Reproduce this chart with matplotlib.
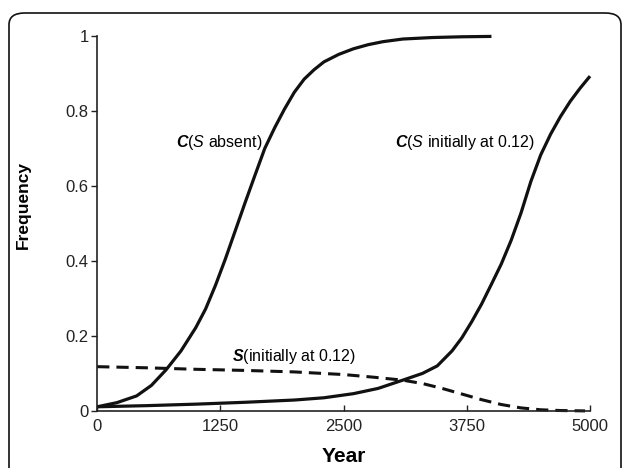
import matplotlib
matplotlib.use("Agg")
import matplotlib.pyplot as plt
from matplotlib.patches import FancyBboxPatch

plt.rcParams['font.family'] = ['Liberation Sans', 'DejaVu Sans']
plt.rcParams['mathtext.fontset'] = 'custom'
plt.rcParams['mathtext.rm'] = 'Liberation Sans'
plt.rcParams['mathtext.it'] = 'Liberation Sans:italic'
plt.rcParams['mathtext.bf'] = 'Liberation Sans:bold'
plt.rcParams['mathtext.bfit'] = 'Liberation Sans:italic:bold'

# C with S absent
yr_absent = [0, 200, 400, 550, 700, 850, 1000, 1100, 1200, 1300, 1400, 1500,
             1600, 1700, 1800, 1900, 2000, 2100, 2200, 2300, 2450, 2600,
             2750, 2900, 3100, 3400, 3700, 4000]
c_absent = [0.011, 0.022, 0.040, 0.068, 0.110, 0.160, 0.222, 0.272, 0.335,
            0.405, 0.480, 0.555, 0.628, 0.700, 0.755, 0.805, 0.850, 0.885,
            0.910, 0.931, 0.951, 0.966, 0.977, 0.985, 0.992, 0.996, 0.998, 0.999]

# C with S initially at 0.12
yr_with = [0, 500, 1000, 1500, 2000, 2300, 2600, 2850, 3100, 3300, 3450, 3600,
           3700, 3800, 3900, 4000, 4100, 4200, 4300, 4400, 4500, 4600, 4700,
           4800, 4900, 5000]
c_with = [0.011, 0.014, 0.018, 0.023, 0.029, 0.035, 0.046, 0.060, 0.082, 0.100,
          0.120, 0.160, 0.195, 0.238, 0.285, 0.338, 0.392, 0.455, 0.528, 0.612,
          0.683, 0.738, 0.785, 0.826, 0.861, 0.893]

# S initially at 0.12
yr_s = [0, 500, 1000, 1500, 2000, 2500, 2800, 3100, 3300, 3500, 3700, 3900,
        4100, 4300, 4500, 4700, 4950]
s_freq = [0.118, 0.115, 0.111, 0.108, 0.104, 0.097, 0.090, 0.082, 0.073, 0.060,
          0.045, 0.030, 0.017, 0.008, 0.003, 0.001, 0.0]

xticks = [0, 1250, 2500, 3750, 5000]
yticks = [0, 0.2, 0.4, 0.6, 0.8, 1]
ylabels = ['0', '0.2', '0.4', '0.6', '0.8', '1']

fig = plt.figure(figsize=(6.27, 4.68), dpi=100)
ax = fig.add_axes([0.155, 0.122, 0.786, 0.801])

# rounded frame around the figure
frame = FancyBboxPatch((9 / 627, -0.1), 612 / 627, 1.1 - 13 / 468,
                       boxstyle="round,pad=0,rounding_size=0.025",
                       transform=fig.transFigure, fill=False,
                       edgecolor='#111111', linewidth=1.2)
fig.patches.append(frame)

ax.plot(yr_absent, c_absent, color='#111111', lw=2.3, clip_on=False,
        solid_capstyle='butt')
ax.plot(yr_with, c_with, color='#111111', lw=2.3, clip_on=False,
        solid_capstyle='butt')
ax.plot(yr_s, s_freq, color='#111111', lw=2.2, clip_on=False,
        dashes=(4.0, 2.3))

ax.set_xlim(0, 5000)
ax.set_ylim(0, 1)
ax.set_xticks(xticks)
ax.set_xticklabels([str(t) for t in xticks])
ax.set_yticks(yticks)
ax.set_yticklabels(ylabels)

for s in ['top', 'right']:
    ax.spines[s].set_visible(False)
for s in ['left', 'bottom']:
    ax.spines[s].set_linewidth(1.2)
    ax.spines[s].set_color('#222222')

ax.tick_params(axis='x', direction='in', length=4, width=1.0, pad=6,
               labelsize=12, colors='#222222')
ax.tick_params(axis='y', direction='out', length=4, width=1.0, pad=2,
               labelsize=12, colors='#222222')

ax.set_xlabel('Year', fontsize=15, fontweight='bold')
ax.set_ylabel('Frequency', fontsize=12.5, fontweight='bold')
ax.xaxis.set_label_coords(0.5, -0.095)
ax.yaxis.set_label_coords(-0.134, 0.55)

ax.text(1680, 0.717, r'$\mathbfit{C}$($S$ absent)', ha='right', va='center',
        fontsize=11.5)
ax.text(4440, 0.715, r'$\mathbfit{C}$($S$ initially at 0.12)', ha='right',
        va='center', fontsize=11.5)
ax.text(1370, 0.144, r'$\mathbfit{S}$(initially at 0.12)', ha='left',
        va='center', fontsize=11.5)

fig.savefig('out.png', dpi=100)
